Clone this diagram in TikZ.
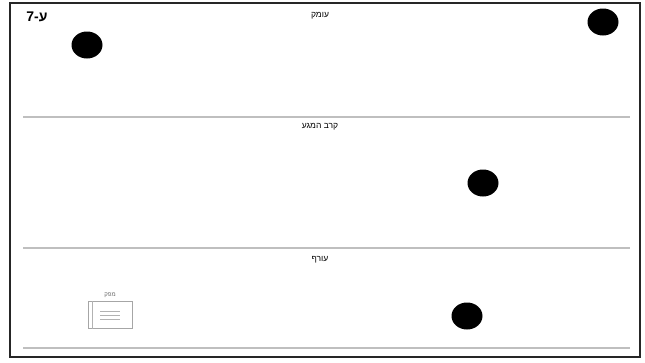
\documentclass[tikz,border=0pt]{standalone}
\usepackage{fontspec}
\usetikzlibrary{positioning,shapes.geometric}
\newfontfamily\hebfont[Script=Hebrew]{Liberation Sans}
\TeXXeTstate=1
\begin{document}
\begin{tikzpicture}[x=1pt,y=-1pt,
    dot/.style={ellipse, fill=black, inner sep=0pt, minimum width=31pt, minimum height=27pt},
    zone/.style={font=\hebfont\fontsize{8.5}{10}\selectfont, inner sep=1pt},
    sep/.style={draw=black!25, line width=1.4pt}]
            \useasboundingbox (0,0) rectangle (645,362);
            \coordinate (TL) at (10,3);
            \coordinate (BR) at (640,357);

            \draw[line width=1.6pt, black!85] (TL) rectangle (BR);

            % zone titles
            \node[font=\hebfont\bfseries\fontsize{14}{16}\selectfont, inner sep=0pt] (unit) at (37,17) {\beginR ע-7\endR};
            \node[zone] (depth) at (320,16) {\beginR עומק\endR};
            \node[zone] (contact) at (320,127) {\beginR קרב המגע\endR};
            \node[zone] (rear) at (320,260) {\beginR עורף\endR};

            % separators
            \coordinate (s1a) at (23,117);  \coordinate (s1b) at (630,117);
            \coordinate (s2a) at (23,248);  \coordinate (s2b) at (630,248);
            \coordinate (s3a) at (23,348);  \coordinate (s3b) at (630,348);
            \draw[sep] (s1a) -- (s1b);
            \draw[sep] (s2a) -- (s2b);
            \draw[sep] (s3a) -- (s3b);

            % units
            \node[dot] (d1) at (87,45) {};
            \node[dot] (d2) at (603,22) {};
            \node[dot] (d3) at (483,183) {};
            \node[dot] (d4) at (467,316) {};

            % headquarters symbol
            \node[draw=black!35, line width=0.8pt, minimum width=44pt, minimum height=27pt, inner sep=0pt] (hq) at (110,315) {};
            \draw[black!30] ([xshift=5pt]hq.north west) -- ([xshift=5pt]hq.south west);
            \draw[black!30] ([xshift=-10pt,yshift=-4pt]hq.center) -- ([xshift=10pt,yshift=-4pt]hq.center);
            \draw[black!30] ([xshift=-10pt,yshift=0pt]hq.center) -- ([xshift=10pt,yshift=0pt]hq.center);
            \draw[black!30] ([xshift=-10pt,yshift=4pt]hq.center) -- ([xshift=10pt,yshift=4pt]hq.center);
            \node[font=\hebfont\fontsize{6}{7}\selectfont, black!60, inner sep=0pt, above=3pt of hq.north] (hqlabel) {\beginR מפק\endR};
\end{tikzpicture}
\end{document}
